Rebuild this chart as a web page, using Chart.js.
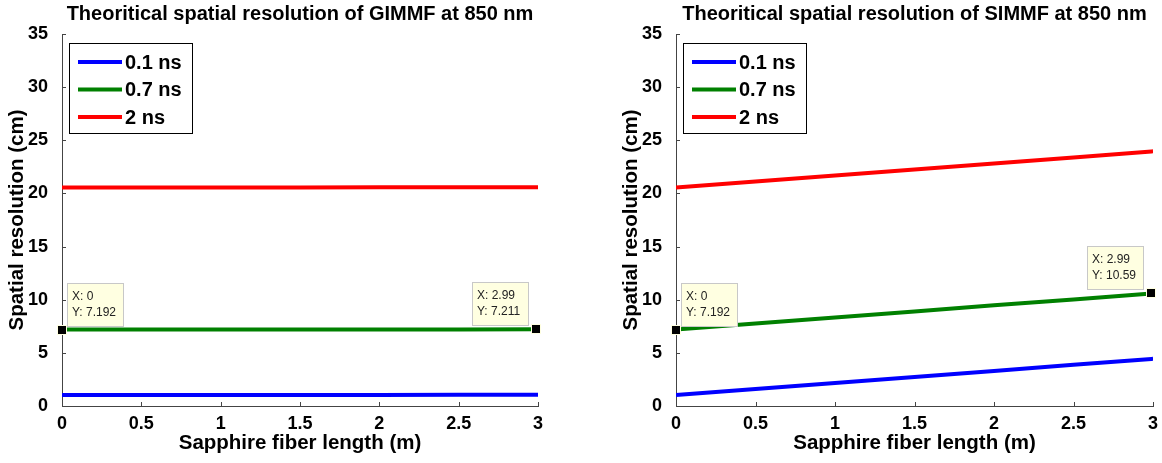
<!DOCTYPE html>
<html>
<head>
<meta charset="utf-8">
<script src="https://cdn.jsdelivr.net/npm/chart.js@4.4.1/dist/chart.umd.min.js"></script>
<style>
  html, body { margin: 0; padding: 0; background: #fff; }
  body { width: 1162px; height: 463px; position: relative; overflow: hidden; }
  .wrap { position: absolute; top: 0; height: 463px; }
  #w1 { left: 0; width: 570px; }
  #w2 { left: 614px; width: 548px; }
</style>
</head>
<body>
<div class="wrap" id="w1"><canvas id="c1" width="570" height="463"></canvas></div>
<div class="wrap" id="w2"><canvas id="c2" width="548" height="463"></canvas></div>
<script>
// fiber length (m) sample points
const lengths = [0, 0.5, 1, 1.5, 2, 2.5, 2.99, 3];
const seriesNames = ["0.1 ns", "0.7 ns", "2 ns"];
const seriesColors = ["#0000ff", "#008000", "#ff0000"];

// GIMMF (left plot), spatial resolution in cm
const gi01 = [1.03, 1.03, 1.04, 1.04, 1.04, 1.05, 1.05, 1.05];
const gi07 = [7.192, 7.195, 7.198, 7.202, 7.205, 7.208, 7.211, 7.211];
const gi2  = [20.55, 20.55, 20.56, 20.56, 20.57, 20.57, 20.57, 20.57];

// SIMMF (right plot)
const si01 = [1.03, 1.60, 2.16, 2.73, 3.30, 3.87, 4.43, 4.44];
const si07 = [7.192, 7.76, 8.33, 8.90, 9.47, 10.03, 10.59, 10.60];
const si2  = [20.55, 21.12, 21.69, 22.26, 22.82, 23.39, 23.95, 23.96];

// data tips [x, y]
const giTips = [[0, 7.192], [2.99, 7.211]];
const siTips = [[0, 7.192], [2.99, 10.59]];

const FONT = '"Liberation Sans", Arial, sans-serif';
Chart.defaults.font.family = FONT;

// MATLAB-ish decorations: title, inward ticks, boxed legend, data tips
const matlabDecor = {
  id: 'matlabDecor',
  afterDraw(chart, args, opts) {
    const ctx = chart.ctx, a = chart.chartArea;
    const xs = chart.scales.x, ys = chart.scales.y;
    ctx.save();

    ctx.strokeStyle = '#444';
    ctx.lineWidth = 1;
    ctx.beginPath();
    xs.ticks.forEach(t => {
      const px = Math.round(xs.getPixelForValue(t.value)) + 0.5;
      ctx.moveTo(px, a.bottom); ctx.lineTo(px, a.bottom - 4);
    });
    ys.ticks.forEach(t => {
      const py = Math.round(ys.getPixelForValue(t.value)) + 0.5;
      ctx.moveTo(a.left, py); ctx.lineTo(a.left + 4, py);
    });
    ctx.stroke();

    ctx.fillStyle = '#000';
    ctx.font = 'bold 20px ' + FONT;
    ctx.textAlign = 'center';
    ctx.textBaseline = 'alphabetic';
    ctx.fillText(opts.title, (a.left + a.right) / 2, 20);

    // legend
    const lx = a.left + 7, ly = 43;
    ctx.fillStyle = '#fff';
    ctx.fillRect(lx, ly, 123, 90);
    ctx.strokeStyle = '#000';
    ctx.strokeRect(lx + 0.5, ly + 0.5, 123, 90);
    ctx.font = 'bold 20px ' + FONT;
    chart.data.datasets.forEach((ds, i) => {
      const cy = ly + 19 + i * 27.5;
      ctx.strokeStyle = ds.borderColor;
      ctx.lineWidth = 4;
      ctx.beginPath(); ctx.moveTo(lx + 9, cy); ctx.lineTo(lx + 53, cy); ctx.stroke();
      ctx.fillStyle = '#000';
      ctx.textAlign = 'left';
      ctx.textBaseline = 'middle';
      ctx.fillText(ds.label, lx + 56, cy + 1);
    });

    // data tips
    opts.tips.forEach((tp, i) => {
      const px = xs.getPixelForValue(tp[0]), py = ys.getPixelForValue(tp[1]);
      const w = 56, h = 43;
      const bx = Math.round(i === 0 ? px + 5 : px - 8 - w);
      const by = Math.round(py - 4 - h);
      ctx.fillStyle = '#ffffe1';
      ctx.fillRect(bx, by, w, h);
      ctx.strokeStyle = '#c8c8c8';
      ctx.lineWidth = 1;
      ctx.strokeRect(bx + 0.5, by + 0.5, w, h);
      ctx.fillStyle = '#222';
      ctx.font = '12px ' + FONT;
      ctx.textAlign = 'left';
      ctx.textBaseline = 'middle';
      ctx.fillText('X: ' + tp[0], bx + 5, by + 14);
      ctx.fillText('Y: ' + tp[1], bx + 5, by + 30);
      ctx.fillStyle = '#ffffe1';
      ctx.fillRect(Math.round(px) - 5, Math.round(py) - 5, 10, 10);
      ctx.fillStyle = '#000';
      ctx.fillRect(Math.round(px) - 4, Math.round(py) - 4, 8, 8);
    });
    ctx.restore();
  }
};

function makeChart(id, title, series, tips, rightPad) {
  const tickFont = { size: 18, weight: 'bold' };
  const titleFont = { size: 20.5, weight: 'bold' };
  return new Chart(document.getElementById(id), {
    type: 'line',
    data: {
      datasets: series.map((vals, i) => ({
        label: seriesNames[i],
        data: lengths.map((x, j) => ({ x: x, y: vals[j] })),
        borderColor: seriesColors[i],
        borderWidth: 4,
        pointRadius: 0,
        tension: 0,
        fill: false
      }))
    },
    options: {
      responsive: false,
      animation: false,
      layout: { padding: { top: 34, right: rightPad, left: 0, bottom: 0 } },
      plugins: {
        legend: { display: false },
        tooltip: { enabled: false },
        matlabDecor: { title: title, tips: tips }
      },
      scales: {
        x: {
          type: 'linear', min: 0, max: 3,
          ticks: {
            stepSize: 0.5, color: '#000', font: tickFont, padding: -1, maxRotation: 0,
            callback: v => String(Math.round(v * 100) / 100)
          },
          grid: { display: false },
          border: { display: true, color: '#444', width: 1 },
          title: { display: true, text: 'Sapphire fiber length (m)', color: '#000', font: titleFont, padding: { top: 0, bottom: 7 } },
          afterFit: s => { s.height = 57; }
        },
        y: {
          min: 0, max: 35,
          ticks: { stepSize: 5, color: '#000', font: tickFont, padding: 6 },
          grid: { display: false },
          border: { display: true, color: '#444', width: 1 },
          title: { display: true, text: 'Spatial resolution (cm)', color: '#000', font: titleFont, padding: { top: 5, bottom: 0 } },
          afterFit: s => { s.width = 62; }
        }
      }
    },
    plugins: [matlabDecor]
  });
}

makeChart('c1', 'Theoritical spatial resolution of GIMMF at 850 nm', [gi01, gi07, gi2], giTips, 32);
makeChart('c2', 'Theoritical spatial resolution of SIMMF at 850 nm', [si01, si07, si2], siTips, 9);
</script>
</body>
</html>
